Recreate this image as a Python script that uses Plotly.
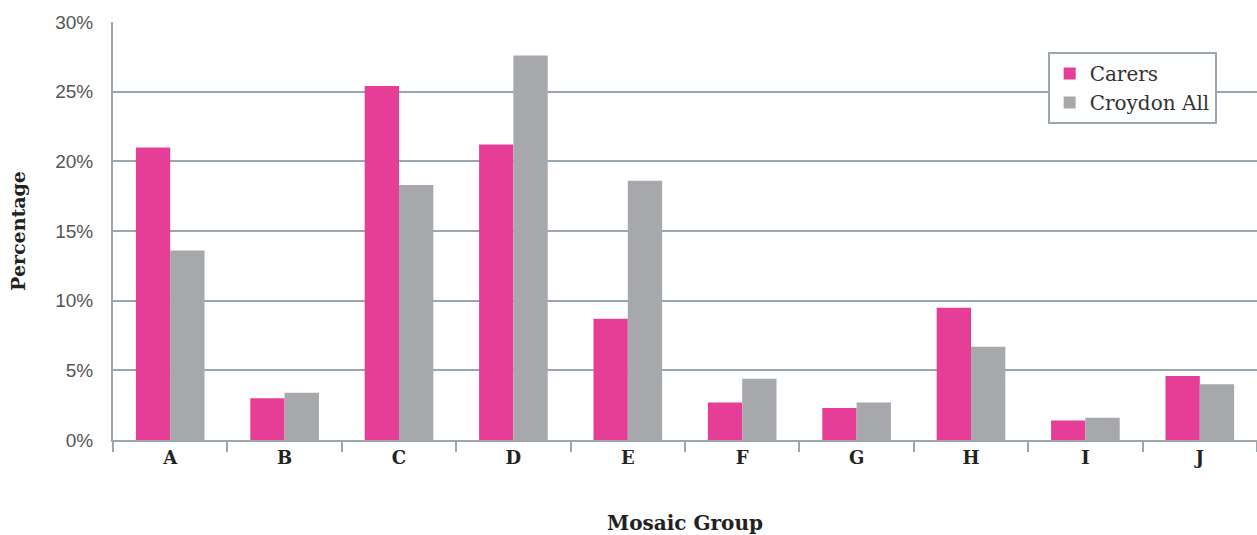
import plotly.graph_objects as go

groups = ["A", "B", "C", "D", "E", "F", "G", "H", "I", "J"]
carers = [21.0, 3.0, 25.4, 21.2, 8.7, 2.7, 2.3, 9.5, 1.4, 4.6]
croydon_all = [13.6, 3.4, 18.3, 27.6, 18.6, 4.4, 2.7, 6.7, 1.6, 4.0]
y_ticks = [0, 5, 10, 15, 20, 25, 30]
y_tick_labels = ["0%", "5%", "10%", "15%", "20%", "25%", "30%"]

grid = "#9ba7b0"
fig = go.Figure()
fig.add_trace(go.Bar(x=groups, y=carers, name="Carers", marker=dict(color="#e63e96", line_width=0)))
fig.add_trace(go.Bar(x=groups, y=croydon_all, name="Croydon All", marker=dict(color="#a7a8ac", line_width=0)))

fig.update_layout(
    width=1257, height=535,
    margin=dict(l=113, r=0, t=22, b=95),
    paper_bgcolor="white", plot_bgcolor="white",
    barmode="group", bargap=0.40, bargroupgap=0,
    legend=dict(x=0.817, y=0.928, xanchor="left", yanchor="top",
                bordercolor=grid, borderwidth=2, bgcolor="white",
                font=dict(family="DejaVu Serif", size=20, color="#333"),
                itemwidth=30, entrywidth=175, entrywidthmode="pixels", tracegroupgap=2),
    xaxis=dict(showline=True, linecolor=grid, linewidth=2, automargin=False,
               tickson="boundaries", ticks="outside", ticklen=10, tickcolor=grid, tickwidth=2,
               tickfont=dict(family="DejaVu Serif", size=18, color="#222", weight="bold"),
               title=dict(text="<b>Mosaic Group</b>", font=dict(family="DejaVu Serif", size=20, color="#222"), standoff=49)),
    yaxis=dict(range=[0, 30], tickvals=y_ticks, ticktext=y_tick_labels, automargin=False,
               showgrid=True, gridcolor=grid, gridwidth=2,
               showline=True, linecolor=grid, linewidth=2, zeroline=False,
               tickfont=dict(family="Liberation Sans", size=19, color="#555"),
               ticks="", ticklabelstandoff=14,
               title=dict(text="<b>Percentage</b>", font=dict(family="DejaVu Serif", size=19, color="#222"), standoff=25)),
)
fig.write_html("out.html", config={"displayModeBar": False},
               post_script="document.body.style.margin='0';document.body.style.overflow='hidden';")
